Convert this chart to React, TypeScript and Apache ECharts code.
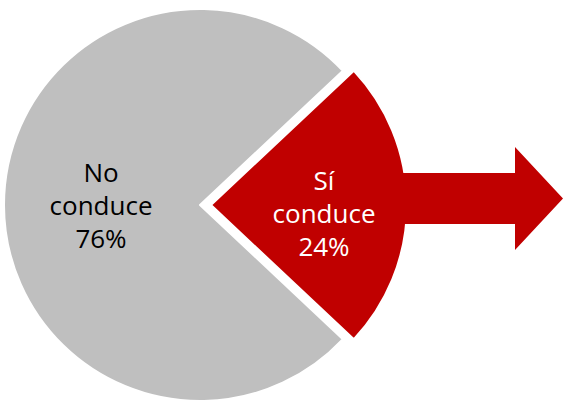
import React, { useEffect, useRef } from "react";
import * as echarts from "echarts";

const categories = ["Sí\nconduce", "No\nconduce"];
const values = [24, 76];
const colors = ["#C00000", "#BFBFBF"];
const labelColors = ["#FFFFFF", "#000000"];

export default function App() {
  const ref = useRef<HTMLDivElement>(null);
  useEffect(() => {
    if (!ref.current) return;
    const chart = echarts.init(ref.current, null, { renderer: "svg" });
    const total = values.reduce((a, b) => a + b, 0);
    const startAngle = (values[0] / total) * 360 / 2;
    chart.setOption({
      animation: false,
      backgroundColor: "#FFFFFF",
      graphic: [
        {
          type: "polygon",
          z: 10,
          shape: {
            points: [
              [398, 173],
              [515, 173],
              [515, 147],
              [563, 198.5],
              [515, 250],
              [515, 224],
              [398, 224],
            ],
          },
          style: { fill: "#C00000" },
        },
      ],
      series: [
        {
          type: "pie",
          z: 2,
          center: [200, 205],
          radius: 196,
          startAngle,
          clockwise: true,
          selectedMode: "single",
          selectedOffset: 11,
          emphasis: { disabled: true },
          itemStyle: { borderColor: "#FFFFFF", borderWidth: 2 },
          label: {
            show: true,
            position: "inside",
            formatter: "{b}\n{c}%",
            fontFamily: "Open Sans",
            fontSize: 26,
            lineHeight: 33,
            align: "center",
          },
          labelLine: { show: false },
          labelLayout: (params: any) =>
            params.dataIndex === 0 ? { dx: 12, dy: 8 } : { dx: 2, dy: 0 },
          data: categories.map((name, i) => ({
            name,
            value: values[i],
            selected: i === 0,
            itemStyle: { color: colors[i] },
            label: { color: labelColors[i] },
          })),
        },
      ],
    });
    return () => chart.dispose();
  }, []);
  return (
    <div
      ref={ref}
      style={{ position: "fixed", left: 0, top: 0, width: 563, height: 402 }}
    />
  );
}
